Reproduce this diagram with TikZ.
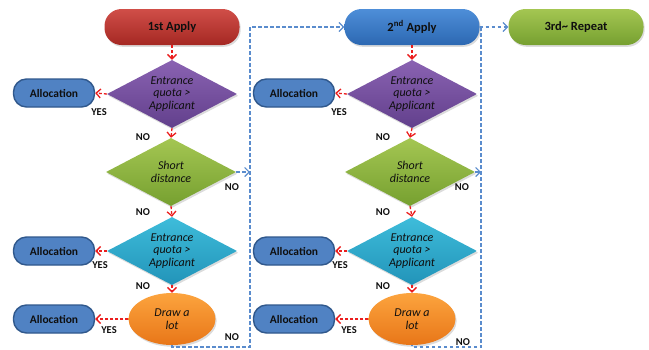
\documentclass[tikz,border=0pt]{standalone}
\usepackage{fontspec}
\setmainfont{Carlito}
\usetikzlibrary{shapes.geometric,arrows.meta,shadows}
\definecolor{redA}{RGB}{208,78,72}\definecolor{redB}{RGB}{165,40,35}
\definecolor{purA}{RGB}{138,98,178}\definecolor{purB}{RGB}{98,64,140}
\definecolor{grnA}{RGB}{164,198,82}\definecolor{grnB}{RGB}{118,160,48}
\definecolor{cyaA}{RGB}{62,188,218}\definecolor{cyaB}{RGB}{34,148,185}
\definecolor{orgA}{RGB}{252,164,62}\definecolor{orgB}{RGB}{232,118,24}
\definecolor{bluA}{RGB}{78,142,216}\definecolor{bluB}{RGB}{44,104,178}
\definecolor{allocF}{RGB}{80,130,195}\definecolor{allocD}{RGB}{48,88,140}
\definecolor{flowred}{RGB}{235,30,30}\definecolor{flowblue}{RGB}{90,140,205}
\definecolor{txt}{RGB}{15,15,15}
\tikzset{
  shad/.style={drop shadow={opacity=0.28,shadow xshift=1.2pt,shadow yshift=-1.8pt}},
  pill/.style={rectangle,rounded corners=17pt,minimum width=135pt,minimum height=36pt,
    inner sep=0pt,shad,text=txt,font=\fontsize{12.5}{14}\selectfont\bfseries},
  alloc/.style={rectangle,rounded corners=13pt,minimum width=81pt,minimum height=28pt,
    inner sep=0pt,fill=allocF,draw=allocD,line width=1.4pt,text=txt,
    font=\fontsize{11.5}{13}\selectfont\bfseries},
  dia/.style={diamond,aspect=1.9,minimum width=130pt,minimum height=68pt,inner sep=0pt,
    shad,text=txt,align=center,font=\fontsize{12}{12.5}\selectfont\itshape},
  lotbox/.style={ellipse,minimum width=87pt,minimum height=52pt,inner sep=0pt,shad,
    text=txt,align=center,top color=orgA,bottom color=orgB,
    font=\fontsize{12}{13.5}\selectfont\itshape},
  redarr/.style={draw=flowred,line width=1.3pt,dash pattern=on 3pt off 2pt,
    -{Straight Barb[length=4.5pt,width=9pt,line width=1.3pt]}},
  bluarr/.style={draw=flowblue,line width=1.2pt,dash pattern=on 3.5pt off 2.5pt},
  bluhead/.style={-{Straight Barb[length=4.5pt,width=9pt,line width=1.2pt]}},
  lab/.style={font=\fontsize{10.5}{12}\selectfont\bfseries,text=txt,inner sep=0pt}
}
\begin{document}
\begin{tikzpicture}[x=1pt,y=-1pt]
\useasboundingbox (0,0) rectangle (649,349);
% column 1
\node[pill,top color=redA,bottom color=redB] (ap1) at (172,27) {1st Apply};
\node[dia,top color=purA,bottom color=purB] (d1) at (172,94) {Entrance\\quota >\\Applicant};
\node[dia,top color=grnA,bottom color=grnB] (s1) at (171,172) {Short\\distance};
\node[dia,top color=cyaA,bottom color=cyaB] (e1) at (172,251) {Entrance\\quota >\\Applicant};
\node[lotbox] (l1) at (172,319) {Draw a\\lot};
\node[alloc] (a11) at (54,93) {Allocation};
\node[alloc] (a12) at (54,251) {Allocation};
\node[alloc] (a13) at (54,319) {Allocation};
% column 2
\node[pill,top color=bluA,bottom color=bluB] (ap2) at (412,27) {2\textsuperscript{nd} Apply};
\node[pill,top color=grnA,bottom color=grnB] (ap3) at (576,27) {3rd\textasciitilde{} Repeat};
\node[dia,top color=purA,bottom color=purB] (d2) at (412,94) {Entrance\\quota >\\Applicant};
\node[dia,top color=grnA,bottom color=grnB] (s2) at (410,172) {Short\\distance};
\node[dia,top color=cyaA,bottom color=cyaB] (e2) at (412,251) {Entrance\\quota >\\Applicant};
\node[lotbox] (l2) at (412,319) {Draw a\\lot};
\node[alloc] (a21) at (294,93) {Allocation};
\node[alloc] (a22) at (294,251) {Allocation};
\node[alloc] (a23) at (294,319) {Allocation};
% coordinates for blue loops
\coordinate (v1t) at (250,27);
\coordinate (v1b) at (250,347);
\coordinate (v2t) at (481,27);
\coordinate (v2b) at (481,347);
% red flows
\foreach \c in {1,2}{
  \draw[redarr] (ap\c.south) -- (d\c.north);
  \draw[redarr] (d\c.south) -- (s\c.north);
  \draw[redarr] (s\c.south) -- (e\c.north);
  \draw[redarr] (e\c.south) -- (l\c.north);
  \draw[redarr] (d\c.west) -- (a\c1.east);
  \draw[redarr] (e\c.west) -- (a\c2.east);
  \draw[redarr] (l\c.west) -- (a\c3.east);
}
% blue flows
\draw[bluarr,bluhead] (l1.south) |- (v1b) -- (v1t) -- (ap2.west);
\draw[bluarr,bluhead] (s1.east) -- (s1.east -| v1t);
\draw[bluarr,bluhead] (ap2.east) -- (ap3.west);
\draw[bluarr] (v2t) -- (v2b) -| (l2.south);
\draw[bluarr,bluhead] (s2.east) -- (s2.east -| v2t);
% labels
\node[lab] (y11) at (99,112) {YES};
\node[lab] (y12) at (100,265) {YES};
\node[lab] (y13) at (109,330) {YES};
\node[lab] (n11) at (143,137) {NO};
\node[lab] (n12) at (143,212) {NO};
\node[lab] (n13) at (143,286) {NO};
\node[lab] (n14) at (232,187) {NO};
\node[lab] (n15) at (232,337) {NO};
\node[lab] (y21) at (339,112) {YES};
\node[lab] (y22) at (340,265) {YES};
\node[lab] (y23) at (349,330) {YES};
\node[lab] (n21) at (383,137) {NO};
\node[lab] (n22) at (383,212) {NO};
\node[lab] (n23) at (383,286) {NO};
\node[lab] (n24) at (462,187) {NO};
\node[lab] (n25) at (463,342) {NO};
\end{tikzpicture}
\end{document}
